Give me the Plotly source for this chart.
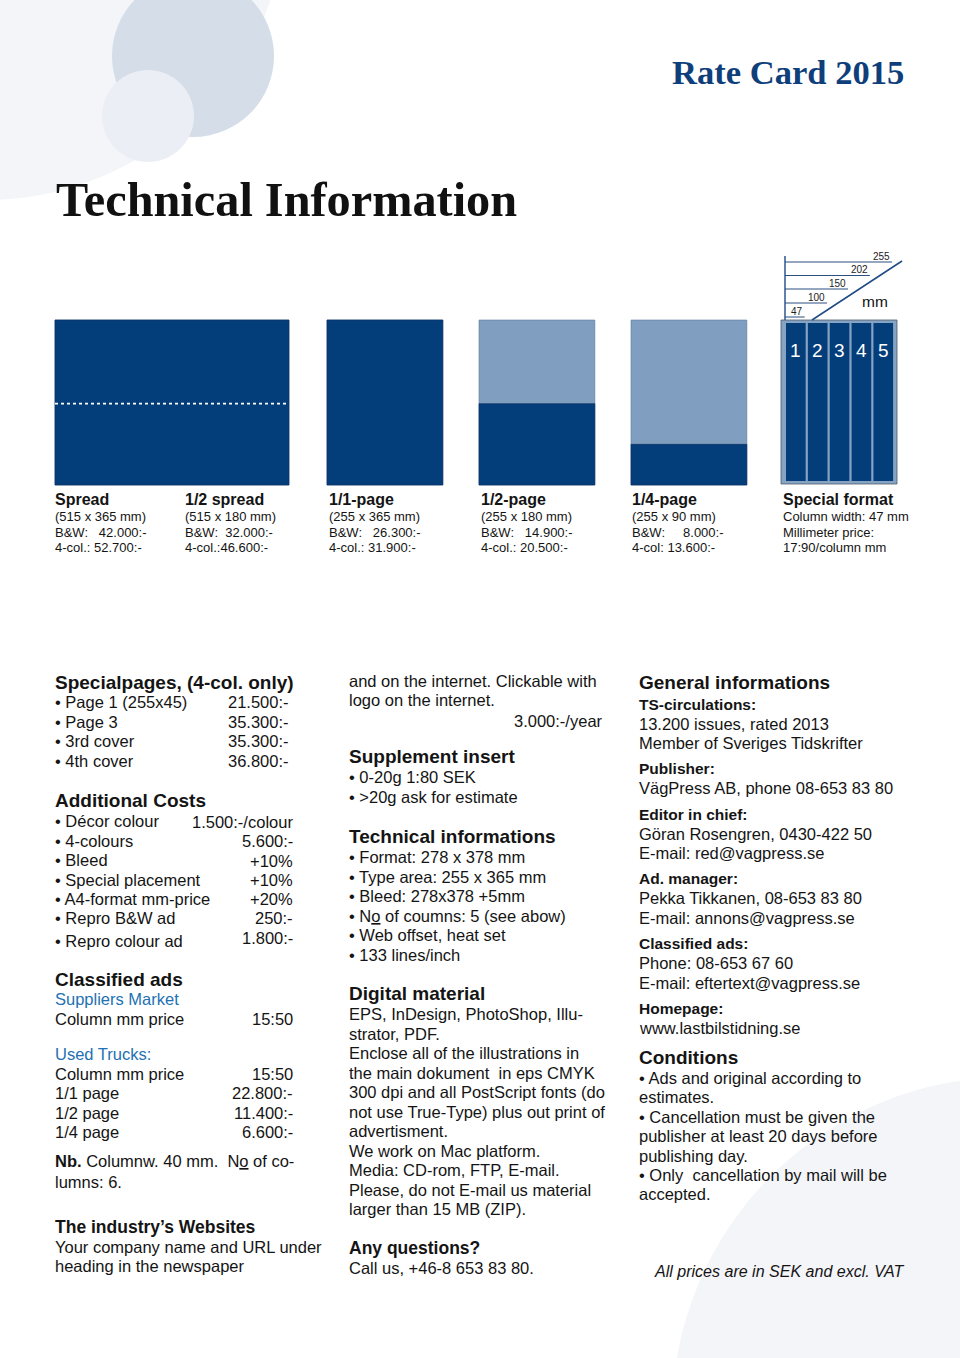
import plotly.graph_objects as go

# ---------------- data ----------------
formats = ["Spread", "1/2 spread", "1/1-page", "1/2-page", "1/4-page", "Special format"]
format_sizes = ["(515 x 365 mm)", "(515 x 180 mm)", "(255 x 365 mm)", "(255 x 180 mm)",
                "(255 x 90 mm)", "Column width: 47 mm"]
bw_prices = ["B&W:   42.000:-", "B&W:  32.000:-", "B&W:   26.300:-", "B&W:   14.900:-",
             "B&W:     8.000:-", "Millimeter price:"]
col_prices = ["4-col.: 52.700:-", "4-col.:46.600:-", "4-col.: 31.900:-", "4-col.: 20.500:-",
              "4-col: 13.600:-", "17:90/column mm"]

ad_width_mm = [515, 255, 255, 255]      # drawn mock-ups: spread, 1/1, 1/2, 1/4
ad_fill_mm = [365, 365, 180, 90]
page_height_mm = 365
spread_fold_mm = 180
column_marks_mm = [47, 100, 150, 202, 255]
n_columns = 5

special_labels = ["• Page 1 (255x45)", "• Page 3", "• 3rd cover", "• 4th cover"]
special_prices = ["21.500:-", "35.300:-", "35.300:-", "36.800:-"]

addcost_labels = ["• Décor colour", "• 4-colours", "• Bleed", "• Special placement",
                  "• A4-format mm-price", "• Repro B&W ad", "• Repro colour ad"]
addcost_values = ["1.500:-/colour", "5.600:-", "+10%", "+10%", "+20%", "250:-", "1.800:-"]

suppliers_labels = ["Column mm price"]
suppliers_prices = ["15:50"]
trucks_labels = ["Column mm price", "1/1 page", "1/2 page", "1/4 page"]
trucks_prices = ["15:50", "22.800:-", "11.400:-", "6.600:-"]

supplement_items = ["• 0-20g 1:80 SEK", "• >20g ask for estimate"]
tech_items = ["• Format: 278 x 378 mm", "• Type area: 255 x 365 mm", "• Bleed: 278x378 +5mm",
              "• N<u>o</u> of coumns: 5 (see abow)", "• Web offset, heat set", "• 133 lines/inch"]
digital_lines = ["EPS, InDesign, PhotoShop, Illu-", "strator, PDF.",
                 "Enclose all of the illustrations in", "the main dokument  in eps CMYK",
                 "300 dpi and all PostScript fonts (do", "not use True-Type) plus out print of",
                 "advertisment.", "We work on Mac platform.", "Media: CD-rom, FTP, E-mail.",
                 "Please, do not E-mail us material", "larger than 15 MB (ZIP)."]

general_blocks = [
    ("TS-circulations:", ["13.200 issues, rated 2013", "Member of Sveriges Tidskrifter"]),
    ("Publisher:", ["VägPress AB, phone 08-653 83 80"]),
    ("Editor in chief:", ["Göran Rosengren, 0430-422 50", "E-mail: red@vagpress.se"]),
    ("Ad. manager:", ["Pekka Tikkanen, 08-653 83 80", "E-mail: annons@vagpress.se"]),
    ("Classified ads:", ["Phone: 08-653 67 60", "E-mail: eftertext@vagpress.se"]),
    ("Homepage:", ["www.lastbilstidning.se"]),
]
conditions_lines = ["• Ads and original according to", "estimates.",
                    "• Cancellation must be given the", "publisher at least 20 days before",
                    "publishing day.", "• Only  cancellation by mail will be", "accepted."]

# ---------------- styling ----------------
SANS = "Liberation Sans, Arial, Helvetica, sans-serif"
SERIF = "Liberation Serif, Times New Roman, serif"
NAVY = "#033d7a"
LIGHT = "#7f9ec0"
INK = "#141414"
LINKBLUE = "#2271b3"
BODY = 16.5
HEAD = 19

W, H = 960, 1358
shapes = []
ann = []


def nb(s):
    return s.replace("  ", "\u00a0\u00a0")


def T(x, y, s, size=BODY, bold=False, color=INK, xa="left", italic=False, fam=SANS):
    s = nb(s)
    if bold:
        s = "<b>" + s + "</b>"
    if italic:
        s = "<i>" + s + "</i>"
    ann.append(dict(x=x, y=y, xref="x", yref="y", text=s, showarrow=False,
                    xanchor=xa, yanchor="middle", borderpad=0, borderwidth=0,
                    font=dict(family=fam, size=size, color=color)))


def rect(x0, y0, x1, y1, fill, line=None, lw=0, layer="above"):
    shapes.append(dict(type="rect", xref="x", yref="y", x0=x0, y0=y0, x1=x1, y1=y1,
                       fillcolor=fill, line=dict(color=line or fill, width=lw), layer=layer))


def circle(cx, cy, r, fill):
    shapes.append(dict(type="circle", xref="x", yref="y", x0=cx - r, x1=cx + r,
                       y0=cy - r, y1=cy + r, fillcolor=fill, line=dict(width=0), layer="below"))


def line(x0, y0, x1, y1, color, w=1, dash="solid"):
    shapes.append(dict(type="line", xref="x", yref="y", x0=x0, y0=y0, x1=x1, y1=y1,
                       line=dict(color=color, width=w, dash=dash)))


# background circles
circle(-15, -104, 304, "#f3f5f8")
circle(193, 56, 81, "#d4dde8")
circle(148, 116, 46, "#ebeef4")
circle(1010, 1415, 338, "#f4f5f9")

# titles
T(904, 72, "Rate Card 2015", size=34.6, bold=True, color="#0e3f7b", xa="right", fam=SERIF)
T(56, 199, "Technical Information", size=48.3, bold=True, color="#111111", fam=SERIF)

# ad mock-ups
top, bottom = 320, 485
scale = (bottom - top) / page_height_mm
rect_x = [55, 327, 479, 631]
for i, (wmm, fmm) in enumerate(zip(ad_width_mm, ad_fill_mm)):
    x0 = rect_x[i]
    x1 = x0 + wmm * scale * 1.005
    rect(x0, top, x1, bottom, LIGHT, line="#5b7aa0", lw=0.6)
    rect(x0, bottom - fmm * scale, x1, bottom, NAVY, line="#0b2f5e", lw=0.6)
    if i == 0:
        yf = bottom - spread_fold_mm * scale
        line(x0, yf, x1, yf, "white", w=1.6, dash="dot")

# special format diagram
sx0 = 786
mmpx = 0.42
rect(781, 320, 897, 484, "#86a3c4", line="#4a5a6a", lw=0.8)
inner_w = column_marks_mm[-1] * mmpx
gap = 2.2
cw = (inner_w - gap * (n_columns - 1)) / n_columns
for c in range(n_columns):
    cx0 = sx0 + c * (cw + gap)
    rect(cx0, 323, cx0 + cw, 481, NAVY)
    T(cx0 + cw / 2, 350, str(c + 1), size=19, color="white", xa="center")
line(785, 256, 785, 320, "#1f4c86", w=1.4)
ys = [317, 303, 289, 275.5, 262]
for mm, yy in zip(column_marks_mm, ys):
    xe = 785 + mm * mmpx
    line(785, yy, xe, yy, "#2a4f80", w=1)
    ann.append(dict(x=xe - 2, y=yy - 0.5, xref="x", yref="y", text=str(mm), showarrow=False,
                    xanchor="right", yanchor="bottom", borderpad=0, borderwidth=0,
                    font=dict(family=SANS, size=10, color="#222")))
line(812, 320, 902, 261, "#1f4c86", w=1.5)
T(862, 301, "mm", size=15.5, color="#111")

# captions
cap_x = [55, 185, 329, 481, 632, 783]
for i in range(len(formats)):
    x = cap_x[i]
    T(x, 499, formats[i], size=16, bold=True)
    T(x, 516.5, format_sizes[i], size=13)
    T(x, 532, bw_prices[i], size=13)
    T(x, 547.5, col_prices[i], size=13)

# ---------------- column 1 ----------------
c1 = 55
vr = 291
T(c1, 682, "Specialpages, (4-col. only)", size=HEAD, bold=True)
for k, (lab, val) in enumerate(zip(special_labels, special_prices)):
    y = 702 + k * 19.7
    T(c1, y, lab)
    T(vr - 2, y, val, xa="right")

T(c1, 800, "Additional Costs", size=HEAD, bold=True)
add_y = [821, 841, 860, 880, 899, 918, 941]
add_vy = [822, 841, 861, 880, 899, 918, 938]
for lab, val, y, vy in zip(addcost_labels, addcost_values, add_y, add_vy):
    T(c1, y, lab)
    T(vr + 2, vy, val, xa="right")

T(c1, 979, "Classified ads", size=HEAD, bold=True)
T(c1, 999, "Suppliers Market", color=LINKBLUE)
for lab, val in zip(suppliers_labels, suppliers_prices):
    T(c1, 1019, lab)
    T(vr + 2, 1019, val, xa="right")
T(c1, 1054, "Used Trucks:", color=LINKBLUE)
for k, (lab, val) in enumerate(zip(trucks_labels, trucks_prices)):
    y = 1073.5 + k * 19.6
    T(c1, y, lab)
    T(vr + 2, y, val, xa="right")
T(c1, 1161, "<b>Nb.</b> Columnw. 40 mm.  N<u>o</u> of co-")
T(c1, 1182, "lumns: 6.")
T(c1, 1227, "The industry’s Websites", size=17.5, bold=True)
T(c1, 1247, "Your company name and URL under")
T(c1, 1266, "heading in the newspaper")

# ---------------- column 2 ----------------
c2 = 349
T(c2, 681, "and on the internet. Clickable with")
T(c2, 700, "logo on the internet.")
T(603, 721, "3.000:-/year", xa="right")
T(c2, 756, "Supplement insert", size=HEAD, bold=True)
for k, s in enumerate(supplement_items):
    T(c2, 777 + k * 20, s)
T(c2, 836, "Technical informations", size=HEAD, bold=True)
for k, s in enumerate(tech_items):
    T(c2, 857 + k * 19.6, s)
T(c2, 993, "Digital material", size=HEAD, bold=True)
for k, s in enumerate(digital_lines):
    T(c2, 1014 + k * 19.5, s)
T(c2, 1248, "Any questions?", size=17.5, bold=True)
T(c2, 1268, "Call us, +46-8 653 83 80.")

# ---------------- column 3 ----------------
c3 = 639
T(c3, 682, "General informations", size=HEAD, bold=True)
y = 704
for head, lines in general_blocks:
    T(c3, y, head, size=15.5, bold=True)
    y += 19.5
    for s in lines:
        T(c3, y, s)
        y += 19.5
    y += 6.3
T(c3, 1057, "Conditions", size=HEAD, bold=True)
for k, s in enumerate(conditions_lines):
    T(c3, 1078 + k * 19.4, s)
T(905, 1271, "All prices are in SEK and excl. VAT", size=16.05, italic=True, xa="right")

fig = go.Figure()
fig.update_layout(
    width=W, height=H, margin=dict(l=0, r=0, t=0, b=0),
    paper_bgcolor="white", plot_bgcolor="white",
    xaxis=dict(range=[0, W], visible=False, fixedrange=True),
    yaxis=dict(range=[H, 0], visible=False, fixedrange=True),
    shapes=shapes, annotations=ann, showlegend=False,
)
fig.write_html("out.html", config={"displayModeBar": False},
               post_script="document.body.style.margin='0';document.body.style.overflow='hidden';")
